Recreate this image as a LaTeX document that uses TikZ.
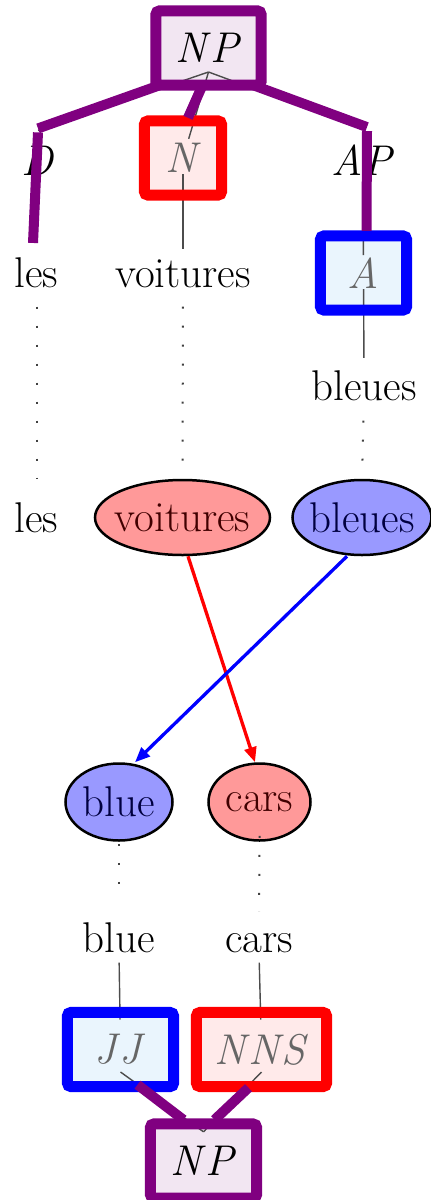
\documentclass[tikz,border=0pt]{standalone}
\usetikzlibrary{shapes.geometric,arrows.meta}
\definecolor{npurple}{HTML}{800080}
\definecolor{npfill}{HTML}{F2E6F2}
\definecolor{rfill}{HTML}{FFEAEA}
\definecolor{bfill}{HTML}{EAF5FD}
\newcommand{\tg}[1]{\textit{#1}}
\begin{document}
\begin{tikzpicture}[x=1pt,y=-1pt,
  font=\fontsize{43}{50}\selectfont,
  word/.style={anchor=base, inner sep=0pt},
  tagbox/.style={rectangle, rounded corners=4pt, inner sep=0pt, minimum height=74pt},
  frame/.style={draw=#1, line width=11pt, rounded corners=4pt},
  ell/.style={ellipse, draw=black, line width=2.5pt, inner sep=0pt},
  edge/.style={draw=black!70, line width=1.4pt},
  dots/.style={draw=black!75, line width=2pt, dash pattern=on 2pt off 17pt},
  purp/.style={draw=npurple, line width=10pt},
  arr/.style={line width=3.3pt, -{Triangle[length=15pt,width=12pt]}}
]
\useasboundingbox (0,0) rectangle (431,1200);

% tree nodes
\node[tagbox, fill=npfill, minimum width=105pt] (np) at (208.5,48) {\tg{N\kern3pt P}};
\node[word] (d) at (38,175) {\tg{D}};
\node[tagbox, fill=rfill, minimum width=77pt, text=black!60] (n) at (183,158) {\tg{N}};
\node[word] (ap) at (363,175) {\tg{AP}};
\node[word] (les1) at (36.5,287) {les};
\node[word] (voit1) at (183,287) {voitures};
\node[tagbox, fill=bfill, minimum width=86pt, text=black!60] (a) at (363.5,273) {\tg{A}};
\node[word] (bleues1) at (364,400) {bleues};

\node[word] (les2) at (36.5,532) {les};
\node[ell, fill=red!40, text=red!25!black, minimum width=175pt, minimum height=75pt] (voit2) at (182.5,517.5) {\makebox[0pt]{voitures}};
\node[ell, fill=blue!40, text=blue!25!black, minimum width=139pt, minimum height=75pt] (ble2) at (362,517.5) {\makebox[0pt]{bleues}};

\node[ell, fill=blue!40, text=blue!25!black, minimum width=107pt, minimum height=77pt] (blue3) at (119,802) {\makebox[0pt]{blue}};
\node[ell, fill=red!40, text=red!25!black, minimum width=102pt, minimum height=77pt] (cars3) at (259.5,802) {\makebox[0pt]{cars}};
\node[word] (blue4) at (119,952) {blue};
\node[word] (cars4) at (259,952) {cars};
\node[tagbox, fill=bfill, minimum width=106pt, text=black!60] (jj) at (120.5,1049.5) {\tg{J\kern3pt J}};
\node[tagbox, fill=rfill, minimum width=130pt, text=black!60] (nns) at (261.5,1049.5) {\tg{N\kern3pt N\kern2pt S}};
\node[tagbox, fill=npfill, minimum width=106pt] (npb) at (203.5,1161) {\tg{N\kern3pt P}};

% thin tree edges
\coordinate (npa) at ([yshift=-24pt]np.center);
\coordinate (dtop) at ([yshift=15pt]d.north);
\coordinate (aptop) at ([yshift=15pt]ap.north);
\coordinate (jjb) at ([yshift=-22.5pt]jj.center);
\coordinate (nnsb) at ([yshift=-22.5pt]nns.center);
\coordinate (npt) at ([yshift=-8pt]npb.north);
\draw[edge] (npa) -- (dtop);
\draw[edge, shorten >=20pt] (npa) -- (n.center);
\draw[edge] (npa) -- (aptop);
\draw[edge, shorten <=16pt, shorten >=10pt] (n.center) -- (voit1.north);
\draw[edge, shorten >=18pt] (ap.south) -- (a.center);
\draw[edge, shorten <=16pt, shorten >=12pt] (a.center) -- (bleues1.north);
\draw[edge, shorten <=10pt, shorten >=30pt] (blue4.south) -- (jj.center);
\draw[edge, shorten <=10pt, shorten >=30pt] (cars4.south) -- (nns.center);
\draw[edge] (jjb) -- (npt);
\draw[edge] (nnsb) -- (npt);

% dotted alignments
\draw[dots, shorten <=19pt, shorten >=24pt] (les1.south) -- (les2.north);
\draw[dots, shorten <=19pt, shorten >=2pt] (voit1.south) -- (voit2.north);
\draw[dots, shorten <=20pt, shorten >=2pt] (bleues1.south) -- (ble2.north);
\draw[dots, shorten <=2pt, shorten >=22pt] (blue3.south) -- (blue4.north);
\draw[dots, shorten <=-6pt, shorten >=21pt] (cars3.south) -- (cars4.north);

% frames
\draw[frame=npurple] (np.south west) rectangle (np.north east);
\draw[frame=red] (n.south west) rectangle (n.north east);
\draw[frame=blue] (a.south west) rectangle (a.north east);
\draw[frame=blue] (jj.south west) rectangle (jj.north east);
\draw[frame=red] (nns.south west) rectangle (nns.north east);
\draw[frame=npurple] (npb.south west) rectangle (npb.north east);

% thick purple highlights
\draw[purp] ([xshift=4pt]np.south west) -- ([yshift=17pt]d.north);
\draw[purp] ([yshift=13pt]d.north) -- ([xshift=-3.5pt,yshift=14pt]les1.north);
\draw[purp] ([xshift=-6pt]np.south) -- ([xshift=5pt,yshift=3pt]n.north);
\draw[purp] ([xshift=-8pt]np.south east) -- ([xshift=4pt,yshift=17pt]ap.north);
\draw[purp] ([xshift=4pt,yshift=13pt]ap.north) -- ([xshift=3pt,yshift=5pt]a.north);
\draw[purp] ([xshift=17pt,yshift=2pt]jj.south) -- ([xshift=-20pt,yshift=4pt]npb.north);
\draw[purp] ([xshift=-13pt,yshift=-1pt]nns.south) -- ([xshift=11pt,yshift=4pt]npb.north);

% alignment arrows
\draw[arr, red] ([xshift=5.5pt]voit2.south) -- ([xshift=-4.5pt]cars3.north);
\draw[arr, blue] ([xshift=-15pt]ble2.south) -- ([xshift=16pt]blue3.north);
\end{tikzpicture}
\end{document}
